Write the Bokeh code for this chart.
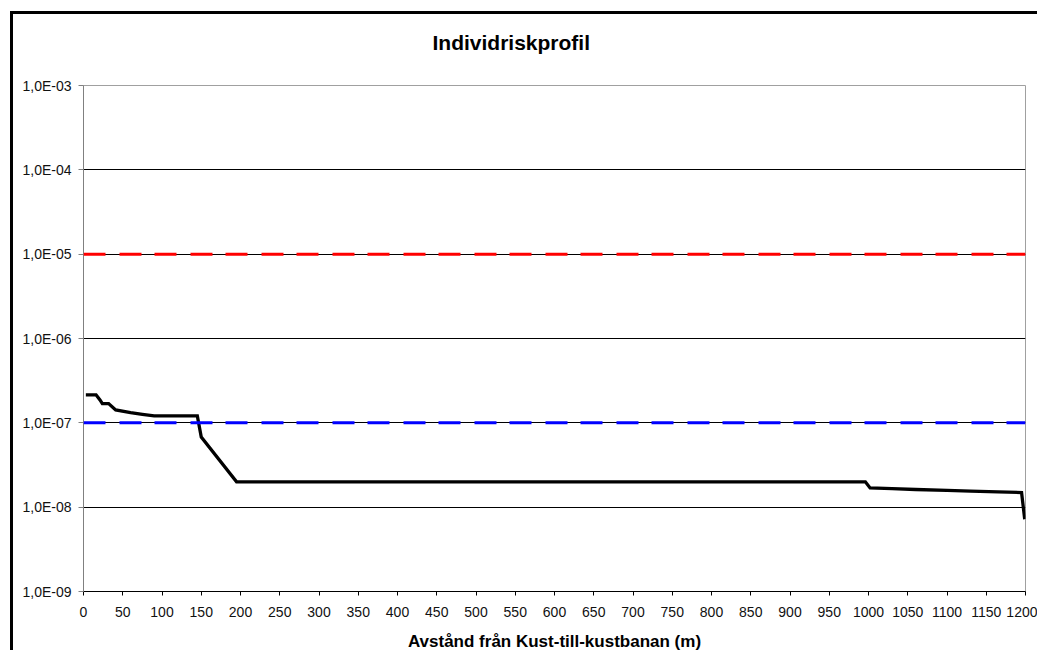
from bokeh.plotting import figure
from bokeh.models import Range1d, FixedTicker, CustomJSTickFormatter, Span
from bokeh.embed import file_html
from bokeh.resources import INLINE

# Individual risk profile along the distance from the railway
distance_m = [3, 16, 21, 24, 32, 41, 60, 75, 90, 145, 150, 195,
              996, 1002, 1030, 1060, 1100, 1130, 1165, 1195, 1199]
risk = [2.15e-7, 2.15e-7, 1.87e-7, 1.69e-7, 1.69e-7, 1.42e-7, 1.32e-7, 1.26e-7,
        1.21e-7, 1.21e-7, 6.8e-8, 2.0e-8,
        2.0e-8, 1.69e-8, 1.66e-8, 1.62e-8, 1.58e-8, 1.55e-8, 1.52e-8, 1.49e-8, 7.2e-9]

# Acceptance criteria (upper and lower limits)
upper_limit = 1e-5
lower_limit = 1e-7

x_ticks = list(range(0, 1201, 50))
y_ticks = [1e-9, 1e-8, 1e-7, 1e-6, 1e-5, 1e-4, 1e-3]
y_tick_labels = ["1,0E-09", "1,0E-08", "1,0E-07", "1,0E-06", "1,0E-05", "1,0E-04", "1,0E-03"]

FONT = "Liberation Sans"

# the figure sits inside a chart box drawn with a thick left/top border
OX, OY = 13, 14

p = figure(width=1040 - OX, height=653 - OY, y_axis_type="log",
           x_range=Range1d(0, 1200), y_range=Range1d(1e-9, 1e-3),
           output_backend="svg", toolbar_location=None,
           min_border_left=83 - OX, min_border_right=15,
           min_border_top=85 - OY, min_border_bottom=62,
           title="Individriskprofil")
p.styles = {"border-left": "3px solid black", "border-top": "3px solid black",
            "margin-left": "10px", "margin-top": "11px"}

p.background_fill_color = "white"
p.border_fill_color = "white"
p.outline_line_color = "#A0A0A0"
p.outline_line_width = 1

p.title.align = "left"
p.title.offset = 349
p.title.standoff = 10
p.title.padding = dict(top=0, right=0, bottom=27, left=0)
p.title.text_font = FONT
p.title.text_font_style = "bold"
p.title.text_font_size = "21px"
p.title.text_color = "black"

# grid: horizontal black lines at each decade only
p.xgrid.visible = False
p.ygrid.grid_line_color = "black"
p.ygrid.grid_line_width = 1
p.ygrid.ticker = FixedTicker(ticks=y_ticks, minor_ticks=[])

# x axis
p.xaxis.ticker = FixedTicker(ticks=x_ticks, minor_ticks=[])
p.xaxis.axis_line_color = "black"
p.xaxis.major_tick_line_color = "black"
p.xaxis.major_tick_in = 0
p.xaxis.major_tick_out = 4
p.xaxis.minor_tick_line_color = None
p.xaxis.major_label_text_font = FONT
p.xaxis.major_label_text_font_size = "14px"
p.xaxis.major_label_text_color = "#111111"
p.xaxis.major_label_standoff = 11
p.xaxis.axis_label = "Avstånd från Kust-till-kustbanan (m)"
p.xaxis.axis_label_text_font = FONT
p.xaxis.axis_label_text_font_style = "bold"
p.xaxis.axis_label_text_font_size = "17px"
p.xaxis.axis_label_text_color = "black"
p.xaxis.axis_label_standoff = 12

# y axis
p.yaxis.ticker = FixedTicker(ticks=y_ticks, minor_ticks=[])
p.yaxis.formatter = CustomJSTickFormatter(
    args=dict(vals=y_ticks, labels=y_tick_labels),
    code="""
        let best = 0, d = Infinity;
        for (let i = 0; i < vals.length; i++) {
            const e = Math.abs(Math.log10(tick) - Math.log10(vals[i]));
            if (e < d) { d = e; best = i; }
        }
        return labels[best];
    """)
p.yaxis.axis_line_color = "#808080"
p.yaxis.major_tick_line_color = "#808080"
p.yaxis.major_tick_in = 0
p.yaxis.major_tick_out = 5
p.yaxis.minor_tick_line_color = None
p.yaxis.major_label_text_font = FONT
p.yaxis.major_label_text_font_size = "14px"
p.yaxis.major_label_text_color = "#111111"
p.yaxis.major_label_standoff = 7

# limit lines
p.add_layout(Span(location=upper_limit, dimension="width", line_color="#FF0000",
                  line_width=3, line_dash="22 14 22 13"))
p.add_layout(Span(location=lower_limit, dimension="width", line_color="#0000FF",
                  line_width=3, line_dash="22 14 22 13"))

# risk profile
p.line(distance_m, risk, line_color="black", line_width=3.3, line_join="miter")

open("out.html", "w").write(file_html(p, INLINE))
